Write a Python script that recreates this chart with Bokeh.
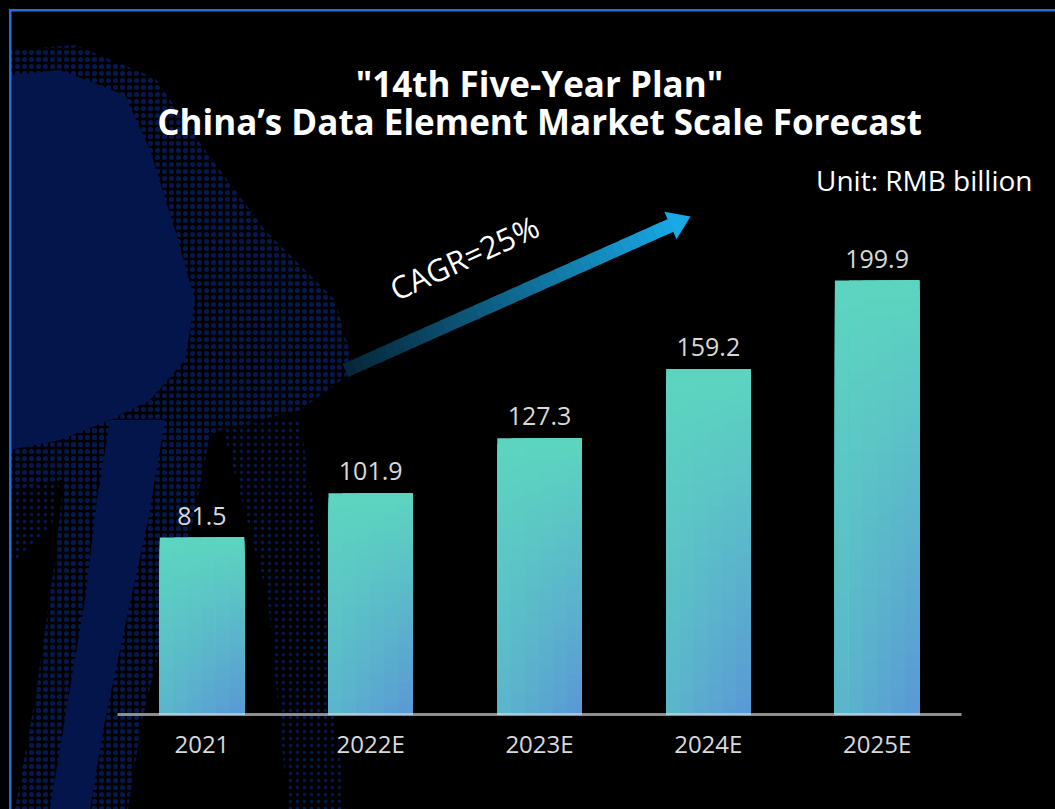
import base64
import numpy as np
from bokeh.plotting import figure
from bokeh.models import FactorRange, Range1d, Label, ColumnDataSource
from bokeh.transform import dodge
from bokeh.core.properties import value
from bokeh.embed import file_html
from bokeh.resources import INLINE

# ---------------- data ----------------
years = ["2021", "2022E", "2023E", "2024E", "2025E"]
market_scale = [81.5, 101.9, 127.3, 159.2, 199.9]
value_labels = ["81.5", "101.9", "127.3", "159.2", "199.9"]
title_line1 = '"14th Five-Year Plan"'
title_line2 = "China’s Data Element Market Scale Forecast"
unit_text = "Unit: RMB billion"
cagr_text = "CAGR=25%"

# ---------------- layout ----------------
W, H = 1055, 809
AX_L, AX_R = 117, 961          # pixel extent of the category band
BOTTOM = 95
FRAME_H = H - BOTTOM
PX_X = (AX_R - AX_L) / len(years)
PAD = (W - AX_R) / PX_X         # symmetric padding in factor units
FRAME_L = int(round(AX_L - PAD * PX_X))
Y_END = 328.9
PX_Y = FRAME_H / Y_END
FONT = "Open Sans"


def dx(px):
    return (px - AX_L) / PX_X


def dy(py):
    return (FRAME_H - py) / PX_Y


# ---------------- background decoration (page background, CSS) ----------------
def pts(seq):
    return " ".join("%d,%d" % q for q in seq)


core_a = [(10, 75), (60, 70), (125, 95), (150, 150), (175, 230), (195, 300), (185, 360),
          (150, 400), (110, 420), (60, 440), (10, 450)]
halo_a = [(10, 50), (75, 45), (155, 78), (205, 150), (265, 230), (335, 300), (355, 370),
          (300, 410), (220, 430), (180, 460), (60, 480), (10, 490)]
core_b = [(110, 420), (165, 420), (148, 520), (122, 640), (105, 720), (90, 809), (50, 809),
          (68, 700), (85, 600), (97, 500)]
halo_b = [(70, 420), (212, 425), (192, 525), (162, 640), (142, 720), (128, 809), (15, 809),
          (35, 700), (55, 560)]
halo_c = [(222, 425), (300, 420), (322, 560), (345, 809), (288, 809), (268, 600)]
halo_d = [(10, 440), (65, 450), (52, 525), (10, 565)]
svg = (
    '<svg xmlns="http://www.w3.org/2000/svg" width="%d" height="%d">' % (W, H)
    + '<defs><pattern id="d" width="7" height="7" patternUnits="userSpaceOnUse">'
    + '<circle cx="3.5" cy="3.5" r="2.5" fill="#04184f"/></pattern>'
    + '<pattern id="e" width="7" height="7" patternUnits="userSpaceOnUse">'
    + '<circle cx="3.5" cy="3.5" r="1.7" fill="#04184f"/></pattern></defs>'
    + '<rect width="%d" height="%d" fill="#000"/>' % (W, H)
    + '<polygon points="%s" fill="url(#e)"/>' % pts(halo_c)
    + '<polygon points="%s" fill="url(#e)"/>' % pts(halo_d)
    + '<polygon points="%s" fill="url(#d)"/>' % pts(halo_a)
    + '<polygon points="%s" fill="url(#d)"/>' % pts(halo_b)
    + '<polygon points="%s" fill="#03154a"/>' % pts(core_a)
    + '<polygon points="%s" fill="#03154a"/>' % pts(core_b)
    + '<rect x="9" y="9" width="%d" height="2.5" fill="#1f70dc"/>' % (W - 9)
    + '<rect x="9" y="9" width="2.5" height="%d" fill="#1f70dc"/>' % (H - 9)
    + '</svg>'
)
bg_uri = "data:image/svg+xml;base64," + base64.b64encode(svg.encode()).decode()

# ---------------- figure ----------------
p = figure(width=W, height=H,
           x_range=FactorRange(factors=years, range_padding=PAD,
                               range_padding_units="absolute"),
           y_range=Range1d(0, Y_END), output_backend="svg", toolbar_location=None,
           min_border_left=FRAME_L, min_border_right=0, min_border_top=0,
           min_border_bottom=BOTTOM, background_fill_alpha=0, border_fill_alpha=0,
           outline_line_color=None,
           styles={"background-color": "#000",
                   "background-image": "url('%s')" % bg_uri,
                   "background-repeat": "no-repeat",
                   "background-size": "%dpx %dpx" % (W, H)})
p.xgrid.grid_line_color = None
p.ygrid.grid_line_color = None
p.yaxis.visible = False

# ---------------- gradient bars (layered so no seams show) ----------------
ROWS, COLS = 48, 6
BAR_W = 0.5
top_rgb = np.array([93, 214, 192])
bot_rgb = np.array([90, 154, 214])
for c in range(COLS):
    u = (c + 0.5) / COLS
    col_left = -BAR_W / 2 + c * BAR_W / COLS
    w = BAR_W / 2 - col_left
    off = col_left + w / 2
    xs, bots, tops, cols = [], [], [], []
    for cat, v in zip(years, market_scale):
        for r in range(ROWS):
            s = (r + 0.5) / ROWS
            t = min(1.0, s * (0.5 + 0.55 * u))
            rgb = (top_rgb * (1 - t) + bot_rgb * t).astype(int)
            cols.append("#%02x%02x%02x" % tuple(rgb))
            xs.append(cat)
            tops.append(v * (1 - r / ROWS))
            bots.append(0)
    src = ColumnDataSource(dict(x=xs, top=tops, bottom=bots, color=cols))
    p.vbar(x=dodge("x", off, range=p.x_range), width=w, top="top",
           bottom="bottom", fill_color="color", line_color=None, source=src)

# value labels
p.text(x=years, y=market_scale, text=value_labels, text_align="center",
       text_baseline="alphabetic", y_offset=-22, text_color="#d9d9d9",
       text_font=value(FONT), text_font_size="25px")

# ---------------- axis ----------------
ax = p.xaxis[0]
ax.bounds = (0, len(years))
ax.axis_line_color = "#d9d9d9"
ax.axis_line_alpha = 0.65
ax.axis_line_width = 3
ax.major_tick_line_color = None
ax.minor_tick_line_color = None
ax.major_tick_out = 0
ax.major_label_standoff = 12
ax.major_label_text_color = "#d9d9d9"
ax.major_label_text_font = FONT
ax.major_label_text_font_size = "24px"

# ---------------- CAGR arrow ----------------
start = np.array([345.0, 370.0])
tip = np.array([690.0, 216.0])
d = tip - start
dirv = d / np.hypot(*d)
perp = np.array([-dirv[1], dirv[0]])
head_len, head_half = 22.0, 15.0
base = tip - dirv * head_len
N = 40
c0 = np.array([6, 38, 56])
c1 = np.array([24, 168, 228])
sx0, sy0, sx1, sy1, scol = [], [], [], [], []
for k in range(N):
    a0 = start + (base - start) * k / N
    a1 = start + (base - start) * (k + 1.05) / N
    t = (k + 0.5) / N
    rgb = (c0 * (1 - t) + c1 * t).astype(int)
    sx0.append(dx(a0[0])); sy0.append(dy(a0[1]))
    sx1.append(dx(a1[0])); sy1.append(dy(a1[1]))
    scol.append("#%02x%02x%02x" % tuple(rgb))
p.segment(x0=sx0, y0=sy0, x1=sx1, y1=sy1, line_color=scol, line_width=14,
          line_cap="butt")
hp = [tip, base + perp * head_half, base - perp * head_half]
p.patch(x=[dx(q[0]) for q in hp], y=[dy(q[1]) for q in hp], fill_color="#1aa9e4",
        line_color=None)

p.add_layout(Label(x=dx(391), y=dy(290), text=cagr_text, angle=24.5, angle_units="deg",
                   text_align="left", text_baseline="alphabetic", text_color="white",
                   text_font=FONT, text_font_size="31px"))

# ---------------- titles ----------------
p.add_layout(Label(x=len(years) / 2, y=dy(83), text=title_line1, text_align="center",
                   text_baseline="alphabetic", text_color="white", text_font=FONT,
                   text_font_style="bold", text_font_size="35px"))
p.add_layout(Label(x=len(years) / 2, y=dy(121), text=title_line2, text_align="center",
                   text_baseline="alphabetic", text_color="white", text_font=FONT,
                   text_font_style="bold", text_font_size="35px"))
p.add_layout(Label(x=dx(1032), y=dy(179), text=unit_text, text_align="right",
                   text_baseline="alphabetic", text_color="white", text_font=FONT,
                   text_font_size="28px"))

open("out.html", "w").write(file_html(p, INLINE))
